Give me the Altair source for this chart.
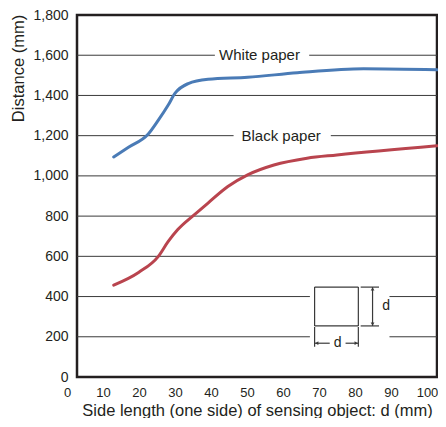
import altair as alt
import pandas as pd

# ---- data ----
white_d = [10.2, 14.3, 19.8, 22.6, 25.3, 27.2, 30.9, 36.4, 47.4, 61.2, 79.6, 100]
white_mm = [1094, 1142, 1208, 1277, 1351, 1410, 1459, 1480, 1490, 1513, 1533, 1528]

black_d = [10.2, 17.1, 22.6, 25.3, 28.0, 32.8, 36.4, 41.9, 47.4, 54.7, 63.9, 72.2, 100]
black_mm = [457, 520, 600, 673, 733, 810, 865, 947, 1005, 1054, 1088, 1104, 1150]

series_names = ["White paper", "Black paper"]
series_colors = ["#4a7bb6", "#b9444e"]

x_ticks = list(range(0, 101, 10))
y_ticks = list(range(0, 1801, 200))
grid_mm = [200, 400, 600, 800, 1000, 1200, 1400, 1600]
# gaps in gridlines (d range) where labels / the diagram sit
grid_gaps = {1600: (38.3, 64.5), 1200: (43.5, 70.5), 400: (64.7, 86.8), 200: (64.7, 86.8)}

label_text = ["White paper", "Black paper"]
label_d = [50.7, 56.7]
label_mm = [1603, 1200]

# sensing object diagram (d units / mm units)
sq_d = [66.0, 78.15]
sq_mm = [254, 447]
vdim_d = 82.1
hdim_mm = 168
ext_v = [78.8, 83.9]     # extension lines to the right
ext_h = [248, 150]       # extension lines below
dim_label_d = [84.8, 72.4]
dim_label_mm = [353, 168]

ink = "#231f20"
font = "Liberation Sans"

# ---- build tables ----
curves = pd.DataFrame(
    {"d": white_d + black_d,
     "mm": white_mm + black_mm,
     "series": ["White paper"] * len(white_d) + ["Black paper"] * len(black_d),
     "order": list(range(len(white_d))) + list(range(len(black_d)))}
)

segs = []
for g in grid_mm:
    if g in grid_gaps:
        a, b = grid_gaps[g]
        segs.append((0, a, g, g))
        segs.append((b, 100, g, g))
    else:
        segs.append((0, 100, g, g))
grid_df = pd.DataFrame(segs, columns=["d", "d2", "mm", "mm2"])

diag = [
    (sq_d[0], sq_d[1], sq_mm[0], sq_mm[0]),
    (sq_d[0], sq_d[1], sq_mm[1], sq_mm[1]),
    (sq_d[0], sq_d[0], sq_mm[0], sq_mm[1]),
    (sq_d[1], sq_d[1], sq_mm[0], sq_mm[1]),
    (ext_v[0], ext_v[1], sq_mm[0], sq_mm[0]),
    (ext_v[0], ext_v[1], sq_mm[1], sq_mm[1]),
    (vdim_d, vdim_d, sq_mm[0], sq_mm[1]),
    (sq_d[0], sq_d[0], ext_h[0], ext_h[1]),
    (sq_d[1], sq_d[1], ext_h[0], ext_h[1]),
    (sq_d[0], dim_label_d[1] - 2.2, hdim_mm, hdim_mm),
    (dim_label_d[1] + 2.2, sq_d[1], hdim_mm, hdim_mm),
]
diag_df = pd.DataFrame(diag, columns=["d", "d2", "mm", "mm2"])

heads = pd.DataFrame({
    "d": [vdim_d, vdim_d, sq_d[0] + 0.6, sq_d[1] - 0.6],
    "mm": [sq_mm[1] - 9, sq_mm[0] + 9, hdim_mm, hdim_mm],
    "shape": ["triangle-up", "triangle-down", "triangle-left", "triangle-right"],
})

labels_df = pd.DataFrame({"d": label_d, "mm": label_mm, "text": label_text})
dlab_df = pd.DataFrame({"d": dim_label_d, "mm": dim_label_mm, "text": ["d", "d"]})

xscale = alt.Scale(domain=[0, 100], nice=False, zero=True)
yscale = alt.Scale(domain=[0, 1800], nice=False)

xaxis = alt.Axis(values=x_ticks, title="Side length (one side) of sensing object: d (mm)",
                 grid=False, domain=False, ticks=False, tickSize=0, labelPadding=9,
                 labelOffset=-10, labelFontSize=13, labelFont=font, labelColor=ink,
                 labelFlush=False, labelOverlap=False,
                 titleFont=font, titleFontSize=16.5, titleFontWeight="normal",
                 titleColor=ink, titleY=38, titleBaseline="alphabetic")
yaxis = alt.Axis(values=y_ticks, format=",d", title="Distance (mm)",
                 grid=False, domain=False, ticks=False, tickSize=0, labelPadding=9,
                 labelFontSize=14, labelFont=font, labelColor=ink,
                 labelFlush=False, labelOverlap=False, labelBaseline="middle",
                 titleFont=font, titleFontSize=16.5, titleFontWeight="normal",
                 titleColor=ink, titleX=-59, titleY=53, titleAngle=270,
                 titleAlign="center", titleBaseline="middle")


def X(field="d"):
    return alt.X(f"{field}:Q", scale=xscale, axis=xaxis)


def Y(field="mm"):
    return alt.Y(f"{field}:Q", scale=yscale, axis=yaxis)


grid = alt.Chart(grid_df).mark_rule(color="#3a3a3a", strokeWidth=1).encode(
    x=X(), x2="d2:Q", y=Y(), y2="mm2:Q")

lines = alt.Chart(curves).mark_line(interpolate="monotone", strokeWidth=3, strokeCap="round").encode(
    x=X(), y=Y(),
    color=alt.Color("series:N", scale=alt.Scale(domain=series_names, range=series_colors), legend=None),
    detail="series:N",
    order="order:Q",
)

labels = alt.Chart(labels_df).mark_text(font=font, fontSize=15, color=ink, baseline="middle",
                                        align="center").encode(x=X(), y=Y(), text="text:N")

diag_rules = alt.Chart(diag_df).mark_rule(color="#3a3a3a", strokeWidth=1.2).encode(
    x=X(), x2="d2:Q", y=Y(), y2="mm2:Q")

arrowheads = alt.Chart(heads).mark_point(filled=True, size=14, color="#3a3a3a", opacity=1).encode(
    x=X(), y=Y(), shape=alt.Shape("shape:N", scale=None))

dlab_left = alt.Chart(dlab_df.iloc[[0]]).mark_text(font=font, fontSize=14, color=ink, align="left",
                                                   baseline="middle").encode(x=X(), y=Y(), text="text:N")
dlab_center = alt.Chart(dlab_df.iloc[[1]]).mark_text(font=font, fontSize=14, color=ink, align="center",
                                                     baseline="middle").encode(x=X(), y=Y(), text="text:N")

chart = alt.layer(grid, diag_rules, arrowheads, dlab_left, dlab_center, lines, labels).properties(
    width=360, height=362,
    autosize=alt.AutoSizeParams(type="none"),
    padding={"left": 69, "top": 7, "right": 1, "bottom": 41},
    background="white",
).configure_view(stroke=ink, strokeWidth=2.5)

chart.save("out.html", embed_options={"renderer": "svg", "actions": False})
